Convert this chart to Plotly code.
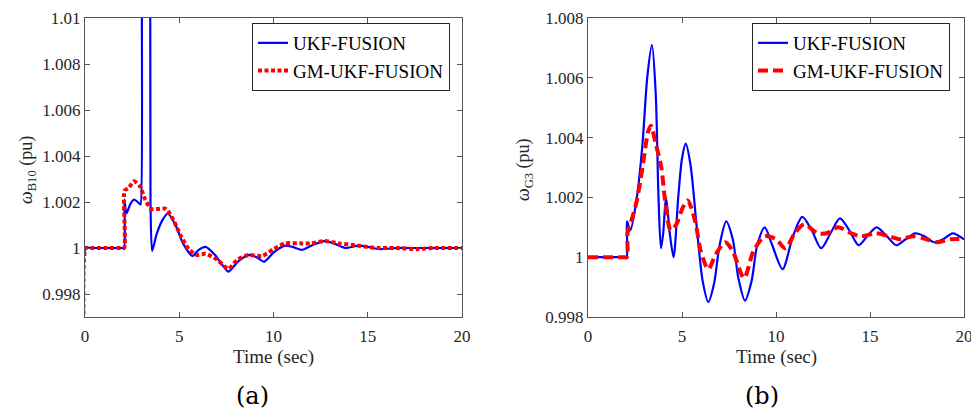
import plotly.graph_objects as go

# ---------- Panel (a): omega_B10 ----------
t_a_ukf = [0.0, 0.04, 0.3, 1.0, 1.9, 2.07, 2.09, 2.2, 2.4, 2.6, 2.8, 2.92, 2.955, 2.962, 2.97,
           3.46, 3.468, 3.475, 3.56, 3.8, 4.1, 4.4, 4.8, 5.2, 5.7, 6.0, 6.4, 6.9, 7.6, 8.1,
           8.7, 9.1, 9.5, 10.0, 10.6, 11.0, 11.5, 12.0, 12.7, 13.2, 13.8, 14.5, 15.0, 15.6,
           16.5, 17.5, 18.5, 20]
w_a_ukf = [0.994, 1.0, 1.0, 1.0, 1.0, 1.0, 1.0021, 1.0015, 1.0019, 1.0021, 1.0020, 1.0019,
           1.0019, 1.02, 1.06, 1.06, 1.02, 1.002, 0.99987, 1.0006, 1.0012, 1.0015, 1.0010,
           1.0002, 0.99965, 0.9999, 1.00005, 0.9997, 0.99897, 0.9994, 0.9997, 0.9996, 0.9994,
           0.9998, 1.0001, 1.00005, 0.99992, 1.0001, 1.0003, 1.0002, 1.0, 1.0001, 1.00005,
           0.99995, 1.0, 1.0, 1.0, 1.0]

t_a_gm = [0.0, 0.04, 0.3, 1.0, 1.9, 2.08, 2.1, 2.3, 2.6, 2.9, 3.2, 3.5, 3.9, 4.3, 4.7, 5.1,
          5.5, 5.9, 6.4, 7.0, 7.6, 8.1, 8.7, 9.4, 10.0, 10.6, 11.5, 12.0, 12.7, 13.5, 14.5,
          15.5, 16.5, 17.6, 18.5, 20]
w_a_gm = [0.994, 1.0, 1.0, 1.0, 1.0, 1.0, 1.0025, 1.0026, 1.0029, 1.0027, 1.0021, 1.0017,
          1.0017, 1.0017, 1.0012, 1.0005, 0.99995, 0.9997, 0.99975, 0.9995, 0.9991, 0.9995,
          0.9997, 0.99965, 0.99995, 1.0002, 1.0002, 1.0002, 1.0003, 1.0002, 1.0001, 1.0, 1.0,
          0.99995, 1.0, 1.0]

# ---------- Panel (b): omega_G3 ----------
t_b_ukf = [0, 1.0, 1.9, 2.05, 2.07, 2.25, 2.6, 2.9, 3.15, 3.4, 3.6, 3.75, 3.88, 4.0, 4.15,
           4.35, 4.55, 4.8, 5.0, 5.2, 5.45, 5.8, 6.1, 6.4, 6.7, 7.0, 7.35, 7.7, 8.0, 8.35, 8.7,
           9.0, 9.4, 9.8, 10.35, 10.9, 11.4, 11.9, 12.4, 12.9, 13.4, 13.9, 14.4, 14.85, 15.35,
           15.9, 16.4, 16.9, 17.4, 17.9, 18.4, 18.9, 19.4, 20]
w_b_ukf = [1.0, 1.0, 1.0, 1.0, 1.0012, 1.0009, 1.002, 1.0038, 1.006, 1.0071, 1.0055, 1.002,
           1.0003, 1.0008, 1.002, 1.0008, 1.0, 1.002, 1.0033, 1.0038, 1.0031, 1.0009, 0.9992,
           0.9985, 0.9991, 1.0004, 1.0012, 1.0006, 0.9993, 0.99855, 0.9992, 1.0004, 1.001,
           1.0004, 0.9996, 1.0007, 1.00135, 1.0009, 1.0003, 1.0008, 1.0013, 1.0009, 1.0004,
           1.0007, 1.001, 1.0007, 1.0004, 1.0006, 1.0008, 1.0007, 1.0005, 1.0006, 1.0008,
           1.0006]

t_b_gm = [0, 1.0, 1.9, 2.07, 2.1, 2.3, 2.6, 2.9, 3.2, 3.35, 3.6, 3.9, 4.1, 4.4, 4.7, 5.0,
          5.3, 5.7, 6.0, 6.4, 6.8, 7.3, 7.7, 8.3, 8.8, 9.4, 10.0, 10.5, 11.0, 11.5, 12.2, 12.7,
          13.3, 14.0, 14.5, 15.3, 16.0, 16.6, 17.3, 18.0, 18.6, 19.3, 20]
w_b_gm = [1.0, 1.0, 1.0, 1.0, 1.0008, 1.0012, 1.0019, 1.003, 1.0042, 1.0044, 1.0038, 1.003,
          1.0019, 1.0009, 1.0011, 1.0016, 1.0019, 1.0012, 1.0002, 0.9996, 1.0001, 1.0005,
          1.0002, 0.9993, 1.0002, 1.0007, 1.0006, 1.0003, 1.0008, 1.0011, 1.0008, 1.0008,
          1.001, 1.0008, 1.0007, 1.0008, 1.0007, 1.0006, 1.0007, 1.0006, 1.0005, 1.0006,
          1.0006]

x_ticks = [0, 5, 10, 15, 20]
ya_ticks = [0.998, 1.0, 1.002, 1.004, 1.006, 1.008, 1.01]
ya_text = ["0.998", "1", "1.002", "1.004", "1.006", "1.008", "1.01"]
yb_ticks = [0.998, 1.0, 1.002, 1.004, 1.006, 1.008]
yb_text = ["0.998", "1", "1.002", "1.004", "1.006", "1.008"]

BLUE = "#0000FF"
RED = "#FF0000"
SERIF = "Liberation Serif"
AX = "#262626"
LINE = "#555555"

fig = go.Figure()
fig.add_trace(go.Scatter(x=t_a_ukf, y=w_a_ukf, mode="lines", name="UKF-FUSION",
                         line=dict(color=BLUE, width=2.2, shape="spline", smoothing=0.6),
                         xaxis="x", yaxis="y", legend="legend"))
fig.add_trace(go.Scatter(x=t_a_gm, y=w_a_gm, mode="lines", name="GM-UKF-FUSION",
                         line=dict(color=RED, width=4, dash="4px,2.5px", shape="spline",
                                   smoothing=0.6),
                         xaxis="x", yaxis="y", legend="legend"))
fig.add_trace(go.Scatter(x=t_b_ukf, y=w_b_ukf, mode="lines", name="UKF-FUSION",
                         line=dict(color=BLUE, width=2.2, shape="spline", smoothing=0.8),
                         xaxis="x2", yaxis="y2", legend="legend2"))
fig.add_trace(go.Scatter(x=t_b_gm, y=w_b_gm, mode="lines", name="GM-UKF-FUSION",
                         line=dict(color=RED, width=4, dash="10px,5px", shape="spline",
                                   smoothing=0.8),
                         xaxis="x2", yaxis="y2", legend="legend2"))

W, H = 971, 414
def px_x(p): return p / W
def px_y(p): return 1 - p / H

axis_common = dict(showline=True, linecolor=LINE, linewidth=1, mirror="ticks", ticks="inside",
                   ticklen=5, tickcolor=LINE, showgrid=False, zeroline=False, automargin=False,
                   ticklabeloverflow="allow",
                   tickfont=dict(family=SERIF, size=17, color=AX))

leg_common = dict(xanchor="left", yanchor="top", bordercolor=AX, borderwidth=1,
                  bgcolor="white", font=dict(family=SERIF, size=19, color="black"),
                  itemwidth=30, tracegroupgap=0)

fig.update_layout(
    width=W, height=H, margin=dict(l=0, r=0, t=0, b=0, pad=0, autoexpand=False),
    paper_bgcolor="white", plot_bgcolor="white",
    xaxis=dict(domain=[px_x(85), px_x(462)], range=[0, 20], tickvals=x_ticks,
               anchor="y", ticklabelstandoff=4, **axis_common),
    yaxis=dict(domain=[px_y(317), px_y(18)], range=[0.997, 1.01], tickvals=ya_ticks,
               ticktext=ya_text, anchor="x", **axis_common),
    xaxis2=dict(domain=[px_x(588), px_x(964)], range=[0, 20], tickvals=x_ticks,
                anchor="y2", ticklabelstandoff=4, **axis_common),
    yaxis2=dict(domain=[px_y(317), px_y(18)], range=[0.998, 1.008], tickvals=yb_ticks,
                ticktext=yb_text, anchor="x2", **axis_common),
    legend=dict(x=px_x(252), y=px_y(23), **leg_common),
    legend2=dict(x=px_x(752), y=px_y(23), **leg_common),
    showlegend=True,
)

def note(text, cx, cy, size, family=SERIF, angle=0, color=AX):
    return dict(text=text, x=px_x(cx), y=px_y(cy), xref="paper", yref="paper",
                xanchor="center", yanchor="middle", showarrow=False, textangle=angle,
                font=dict(family=family, size=size, color=color))

ann = [
    note("Time (sec)", 273, 357, 19),
    note("Time (sec)", 776, 357, 19),
    note("<i>ω</i><sub>B10</sub> (pu)", 27, 170, 18, angle=-90),
    note("<i>ω</i><sub>G3</sub> (pu)", 524, 170, 18, angle=-90),
    note("(a)", 253, 396, 24, family="DejaVu Serif", color="black"),
    note("(b)", 762, 396, 24, family="DejaVu Serif", color="black"),
]
fig.update_layout(annotations=ann)

fig.write_html("out.html")
